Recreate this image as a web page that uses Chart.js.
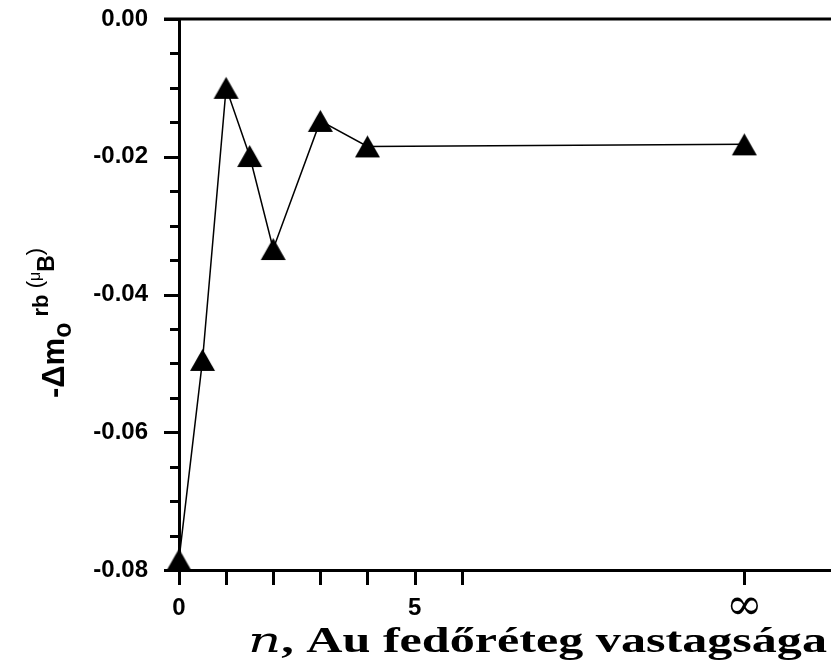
<!DOCTYPE html>
<html>
<head>
<meta charset="utf-8">
<script src="https://cdn.jsdelivr.net/npm/chart.js@4.4.1/dist/chart.umd.min.js"></script>
<style>
  html, body { margin: 0; padding: 0; background: #fff; }
  #wrap { width: 831px; height: 667px; }
</style>
</head>
<body>
<div id="wrap"><canvas id="momentChart" width="831" height="667"></canvas></div>
<script>
// Au capping layer thickness (12 stands for the bulk / infinite limit)
const thickness = [0, 0.5, 1, 1.5, 2, 3, 4, 12];
// orbital moment change, mu_B
const moment = [-0.0785, -0.0495, -0.0100, -0.0199, -0.0334, -0.0148, -0.0185, -0.0182];

const xTickValues = [0, 1, 2, 3, 4, 5, 6, 12];
const xTickLabels = ['0', '', '', '', '', '5', '', '\u221E'];
const yMajorTicks = [0, -0.02, -0.04, -0.06, -0.08];

// filled triangle marker, centred on its bounding box
function makeTriangle(w, h) {
    const c = document.createElement('canvas');
    c.width = w + 2;
    c.height = h + 2;
    const g = c.getContext('2d');
    g.fillStyle = '#000';
    g.beginPath();
    g.moveTo(c.width / 2, 1);
    g.lineTo(c.width - 1, h + 1);
    g.lineTo(1, h + 1);
    g.closePath();
    g.fill();
    return c;
}
const triangle = makeTriangle(25, 22);

// tick marks and the top frame line
const frameTicks = {
    id: 'frameTicks',
    afterDraw(chart) {
        const ctx = chart.ctx;
        const area = chart.chartArea;
        const x = chart.scales.x, y = chart.scales.y;
        ctx.save();
        ctx.strokeStyle = '#000';
        ctx.lineWidth = 3;
        ctx.lineCap = 'butt';
        ctx.beginPath();
        ctx.moveTo(area.left - 15, area.top);
        ctx.lineTo(area.right, area.top);
        for (let v = 0; v >= -0.08 - 1e-9; v -= 0.005) {
            const py = Math.round(y.getPixelForValue(v)) + 0.5;
            const major = Math.abs(v / 0.02 - Math.round(v / 0.02)) < 1e-6;
            ctx.moveTo(area.left - (major ? 15 : 9), py);
            ctx.lineTo(area.left, py);
        }
        xTickValues.forEach(v => {
            const px = Math.round(x.getPixelForValue(v)) + 0.5;
            ctx.moveTo(px, area.bottom);
            ctx.lineTo(px, area.bottom + 15);
        });
        ctx.stroke();
        ctx.restore();
    }
};

// axis titles with sub- and superscripts
const axisTitles = {
    id: 'axisTitles',
    afterDraw(chart) {
        const ctx = chart.ctx;
        ctx.save();
        ctx.fillStyle = '#000';
        ctx.textBaseline = 'alphabetic';

        // x title: italic n, then bold text, stretched to its span
        const x0 = 248, x1 = 827, ty = 652;
        const rest = ', Au fed\u0151r\u00E9teg vastags\u00E1ga';
        const fn = 'italic 36px "DejaVu Serif"';
        const fr = 'bold 35px "Liberation Serif"';
        ctx.font = fn;
        const wn = ctx.measureText('n').width;
        ctx.font = fr;
        const wr = ctx.measureText(rest).width;
        const sx = (x1 - x0) / (wn + wr);
        ctx.save();
        ctx.translate(x0, ty);
        ctx.scale(sx, 1);
        ctx.font = fn;
        ctx.fillText('n', 0, 0);
        ctx.font = fr;
        ctx.fillText(rest, wn, 0);
        ctx.restore();

        // y title, rotated
        ctx.translate(0, 398);
        ctx.rotate(-Math.PI / 2);
        const parts = [
            { t: '-\u0394m', f: 'bold 31px "Liberation Sans"', b: 64 },
            { t: 'o', f: 'bold 25px "Liberation Sans"', b: 71 },
            { t: ' rb', f: 'bold 22px "Liberation Sans"', b: 48 },
            { t: ' (', f: '22px "Liberation Sans"', b: 42 },
            { t: '\u03BC', f: '16px "Liberation Sans"', b: 40 },
            { t: 'B', f: 'bold 23px "Liberation Sans"', b: 54 },
            { t: ')', f: '22px "Liberation Sans"', b: 42 }
        ];
        let pos = 0;
        parts.forEach(p => {
            ctx.font = p.f;
            ctx.fillText(p.t, pos, p.b);
            pos += ctx.measureText(p.t).width;
        });
        ctx.restore();
    }
};

// fixed axis boxes, no extra padding for overhanging labels
function fixBox(size) {
    return scale => {
        if (scale.isHorizontal()) scale.height = size; else scale.width = size;
        scale.paddingTop = 0;
        scale.paddingBottom = 0;
        scale.paddingLeft = 0;
        scale.paddingRight = 0;
    };
}

new Chart(document.getElementById('momentChart').getContext('2d'), {
    type: 'line',
    data: {
        labels: thickness,
        datasets: [{
            data: thickness.map((n, i) => ({ x: n, y: moment[i] })),
            borderColor: '#000',
            borderWidth: 1.5,
            tension: 0,
            fill: false,
            pointStyle: triangle,
            pointRadius: 12,
            pointHoverRadius: 12,
            clip: false
        }]
    },
    plugins: [frameTicks, axisTitles],
    options: {
        responsive: false,
        animation: false,
        events: [],
        layout: { autoPadding: false, padding: { top: 19, right: 0, left: 0, bottom: 0 } },
        plugins: { legend: { display: false }, tooltip: { enabled: false } },
        scales: {
            x: {
                type: 'linear',
                min: 0,
                max: 13.84,
                afterBuildTicks: scale => {
                    scale.ticks = xTickValues.map(v => ({ value: v }));
                },
                afterFit: fixBox(97),
                border: { display: true, color: '#000', width: 3 },
                grid: { drawOnChartArea: false, color: 'rgba(0,0,0,0)', tickLength: 15 },
                ticks: {
                    autoSkip: false,
                    maxRotation: 0,
                    padding: 9,
                    color: '#000',
                    font: c => (c.tick && c.tick.value === 12)
                        ? { family: 'DejaVu Serif', size: 44, weight: 'normal', lineHeight: 0.6 }
                        : { family: 'Liberation Sans', size: 24, weight: 'bold' },
                    callback: (v, i) => xTickLabels[i]
                }
            },
            y: {
                min: -0.08,
                max: 0,
                afterBuildTicks: scale => {
                    scale.ticks = yMajorTicks.map(v => ({ value: v }));
                },
                afterFit: fixBox(179),
                border: { display: true, color: '#000', width: 3 },
                grid: { drawOnChartArea: false, color: 'rgba(0,0,0,0)', tickLength: 15 },
                ticks: {
                    padding: 16,
                    color: '#000',
                    font: { family: 'Liberation Sans', size: 24, weight: 'bold', lineHeight: 0.8 },
                    callback: v => v.toFixed(2)
                }
            }
        }
    }
});
</script>
</body>
</html>
